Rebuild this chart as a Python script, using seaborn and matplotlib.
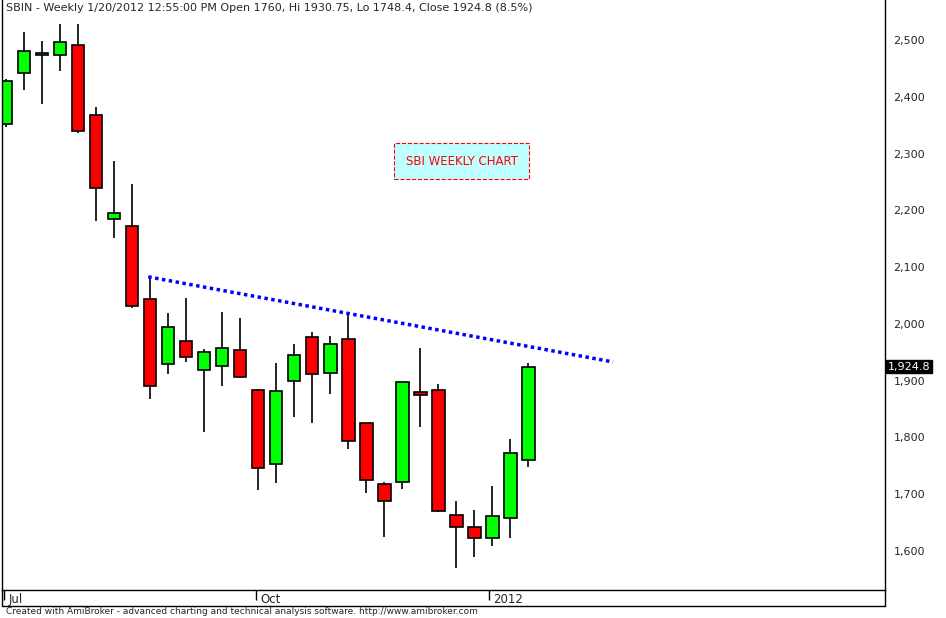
import matplotlib
matplotlib.use("Agg")
import matplotlib.pyplot as plt
from matplotlib.lines import Line2D
import seaborn as sns
import numpy as np
import pandas as pd

# weekly candles
opens = [2352, 2442, 2474, 2474, 2492, 2368, 2185, 2173, 2044, 1930, 1970, 1919, 1926, 1954, 1884,
         1753, 1900, 1977, 1914, 1974, 1826, 1718, 1722, 1880, 1884, 1663, 1642, 1623, 1658, 1760]
highs = [2432, 2515, 2499, 2529, 2529, 2382, 2287, 2247, 2083, 2019, 2046, 1956, 2021, 2011, 1886,
         1931, 1965, 1986, 1979, 2018, 1826, 1722, 1898, 1958, 1894, 1688, 1672, 1715, 1797, 1930.75]
lows = [2347, 2412, 2388, 2446, 2337, 2181, 2152, 2028, 1868, 1912, 1933, 1810, 1891, 1905, 1707,
        1720, 1836, 1826, 1877, 1780, 1702, 1625, 1709, 1818, 1668, 1570, 1589, 1609, 1623, 1748.4]
closes = [2428, 2481, 2477, 2497, 2340, 2240, 2196, 2032, 1891, 1995, 1942, 1951, 1958, 1907, 1746,
          1882, 1945, 1912, 1965, 1794, 1725, 1688, 1898, 1875, 1670, 1642, 1623, 1662, 1773, 1924.8]

trend_x = [7.9, 33.7]
trend_y = [2083, 1933]

xtick_pos = [-0.1, 13.9, 26.8]
xtick_labels = ["Jul", "Oct", "2012"]
ytick_vals = [1600, 1700, 1800, 1900, 2000, 2100, 2200, 2300, 2400, 2500]

df = pd.DataFrame({"open": opens, "high": highs, "low": lows, "close": closes})
df["idx"] = np.arange(len(df))
df["up"] = df["close"] >= df["open"]

sns.set_style("white")
plt.rcParams["font.family"] = ["DejaVu Sans"]

W, H = 946, 618
fig = plt.figure(figsize=(W / 100, H / 100), dpi=100)
ax = fig.add_axes([2 / W, 28 / H, 883 / W, 590 / H])

# wicks
ax.vlines(df["idx"], df["low"], df["high"], color="black", lw=1.2, zorder=1)
# bodies
body_lo = np.minimum(df["open"], df["close"])
body_h = np.maximum(np.abs(df["close"] - df["open"]), 3)
colors = np.where(df["up"], "#00ff00", "#ff0000")
ax.bar(df["idx"], body_h, bottom=body_lo, width=0.7, color=colors,
       edgecolor="black", linewidth=1.2, zorder=2)

# trend line
sns.lineplot(x=trend_x, y=trend_y, ax=ax, color="#0000ff", lw=2.5,
             linestyle=(0, (1, 1)), zorder=3)

ax.set_xlim(-0.22, 48.8)
ax.set_ylim(1531, 2571)
ax.yaxis.tick_right()
ax.set_yticks(ytick_vals)
ax.set_yticklabels([f"{v:,}" for v in ytick_vals], fontsize=8)
ax.tick_params(axis="y", length=0, pad=6)
ax.set_xticks(xtick_pos)
ax.set_xticklabels([])
ax.tick_params(axis="x", bottom=True, direction="out", length=7, width=1, color="black")
for p, lab in zip(xtick_pos, xtick_labels):
    ax.text(p + 0.25, -0.005, lab, transform=ax.get_xaxis_transform(), fontsize=8.5,
            ha="left", va="top")
for s in ax.spines.values():
    s.set_color("black")
    s.set_linewidth(1)
ax.spines["top"].set_visible(False)

ax.text(0.005, 0.995, "SBIN - Weekly 1/20/2012 12:55:00 PM Open 1760, Hi 1930.75, Lo 1748.4, Close 1924.8 (8.5%)",
        transform=ax.transAxes, fontsize=8, ha="left", va="top")

ax.text(25.3, 2287, "SBI WEEKLY CHART", fontsize=8.5, color="#ff0000", ha="center", va="center",
        bbox=dict(boxstyle="square,pad=0.95", fc="#c0ffff", ec="#ff0000", ls="--", lw=0.8))

# last price label
ax.annotate(f"{closes[-1]:,}", xy=(1.0, closes[-1]), xycoords=("axes fraction", "data"),
            xytext=(2, 0), textcoords="offset points", fontsize=8, color="white",
            ha="left", va="center",
            bbox=dict(boxstyle="square,pad=0.15", fc="black", ec="black"))

# footer strip
fig.add_artist(Line2D([2 / W, 885 / W], [12 / H, 12 / H], color="black", lw=1))
fig.add_artist(Line2D([885 / W, 885 / W], [12 / H, 28 / H], color="black", lw=1))
fig.add_artist(Line2D([2 / W, 2 / W], [12 / H, 28 / H], color="black", lw=1))
fig.text(6 / W, 7 / H, "Created with AmiBroker - advanced charting and technical analysis software. http://www.amibroker.com",
         fontsize=6.5, ha="left", va="center")

fig.savefig("out.png", dpi=100)
